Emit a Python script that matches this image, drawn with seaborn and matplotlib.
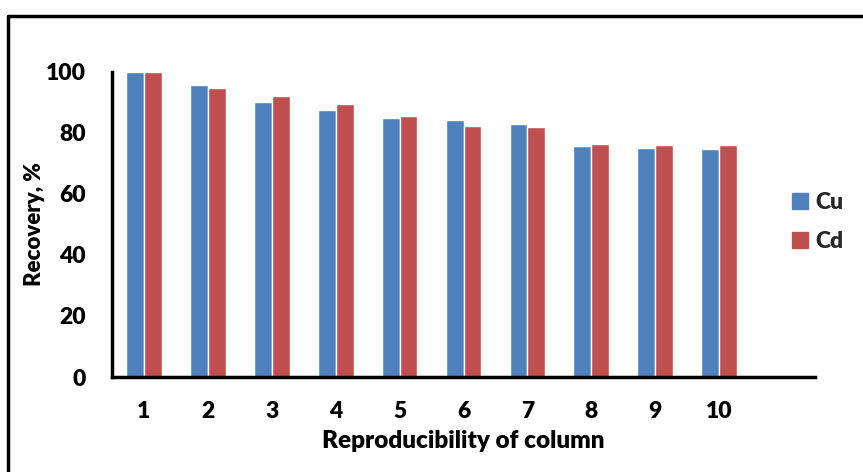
import matplotlib
matplotlib.use("Agg")
import matplotlib.pyplot as plt
import matplotlib.patches as mpatches
import seaborn as sns
import pandas as pd

categories = ["1", "2", "3", "4", "5", "6", "7", "8", "9", "10"]
cu_values = [100.0, 95.6, 90.2, 87.6, 84.8, 84.4, 82.9, 75.7, 75.1, 74.9]
cd_values = [100.0, 94.8, 92.1, 89.5, 85.6, 82.3, 82.1, 76.4, 76.1, 76.1]
series_names = ["Cu", "Cd"]
colors = ["#4F81BD", "#C0504D"]

df = pd.DataFrame({
    "run": categories * 2,
    "value": cu_values + cd_values,
    "metal": [series_names[0]] * len(categories) + [series_names[1]] * len(categories),
})

sns.set_theme(style="white")
plt.rcParams["font.family"] = ["Lato", "DejaVu Sans"]
W = "heavy"
plt.rcParams["font.weight"] = W

fig = plt.figure(figsize=(8.63, 4.72), dpi=100)
ax = fig.add_axes([112 / 863, 1 - 377 / 472, (815 - 112) / 863, (377 - 72) / 472])

sns.barplot(data=df, x="run", y="value", hue="metal", order=categories,
            hue_order=series_names, palette=colors, width=0.56, gap=0,
            saturation=1, ax=ax, legend=False)

ax.set_xlim(-0.5, 10.5)
ax.set_ylim(0, 100)
ax.set_yticks([0, 20, 40, 60, 80, 100])
for s in ["top", "right"]:
    ax.spines[s].set_visible(False)
for s in ["left", "bottom"]:
    ax.spines[s].set_color("black")
    ax.spines[s].set_linewidth(2.5)
ax.tick_params(axis="both", length=0, labelsize=16.5, colors="black")
ax.tick_params(axis="y", pad=19)
ax.tick_params(axis="x", pad=17)
for lab in ax.get_xticklabels() + ax.get_yticklabels():
    lab.set_fontweight(W)
ax.set_xlabel("Reproducibility of column", fontsize=17.5, fontweight=W,
              color="black")
ax.set_ylabel("Recovery, %", fontsize=16, fontweight=W, color="black")
ax.xaxis.set_label_coords(0.5, -(430 - 377) / 305)
ax.yaxis.set_label_coords(-(112 - 45) / 703, 0.5)

handles = [mpatches.Patch(color=c, label=n) for c, n in zip(colors, series_names)]
fig.legend(handles=handles, loc="center left", bbox_to_anchor=(771 / 863, 1 - 222 / 472),
           frameon=False, handlelength=0.7, handleheight=0.7,
           handletextpad=0.35, labelspacing=0.8, prop={"weight": W, "size": 16.5})

# chart-area border (cropped at right and bottom)
fig.add_artist(plt.Line2D([8 / 863, 8 / 863], [0, 1 - 16 / 472], color="black",
                          linewidth=2.5, transform=fig.transFigure))
fig.add_artist(plt.Line2D([8 / 863, 1], [1 - 16 / 472, 1 - 16 / 472], color="black",
                          linewidth=2.5, transform=fig.transFigure))

fig.savefig("out.png", dpi=100)
